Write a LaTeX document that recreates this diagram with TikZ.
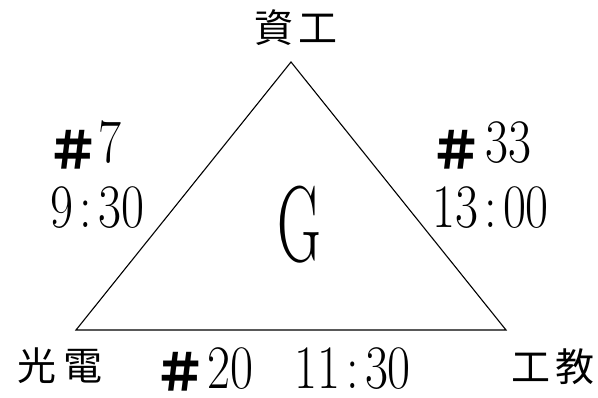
\documentclass[tikz,border=0pt]{standalone}
\usepackage{fontspec}
\newfontfamily\cjk{Noto Sans CJK TC}
\newcommand\tcolon{\makebox[0.5em]{:}}
\tikzset{
  cjklab/.style={inner sep=0pt, font=\cjk\fontsize{39}{39}\selectfont},
  numlab/.style={inner sep=0pt, anchor=base west, font=\fontsize{60}{60}\selectfont, xscale=0.833, yscale=1.03},
  hashlab/.style={inner sep=0pt, font=\cjk\bfseries\fontsize{52}{52}\selectfont},
  edge/.style={line width=1.1pt, line join=miter}
}
\begin{document}
\begin{tikzpicture}[x=1pt,y=-1pt]
\useasboundingbox (0,0) rectangle (598,398);
\coordinate (top) at (291,62);
\coordinate (bl) at (76,330);
\coordinate (br) at (506,330);
\draw[edge] (top) -- (bl) -- (br) -- cycle;
\node[cjklab] (zg) at (296,28) {資\hspace{5pt}工};
\node[cjklab] (gd) at (60,366) {光\hspace{7pt}電};
\node[cjklab] (gj) at (553,367) {工\hspace{5pt}教};
\node[hashlab] (h7) at (73,150) {＃};
\node[numlab] (n7) at (98,163) {7};
\node[numlab] (t7) at (50,228) {9\tcolon30};
\node[hashlab] (h33) at (456,150) {＃};
\node[numlab] (n33) at (485,163) {33};
\node[numlab] (t33) at (432,228) {13\tcolon00};
\node[hashlab] (h20) at (180,372) {＃};
\node[numlab] (n20) at (207,389) {20};
\node[numlab] (t20) at (294,389) {11\tcolon30};
\node[inner sep=0pt, font=\fontsize{108}{108}\selectfont, xscale=0.56] (g) at (299.5,225) {G};
\end{tikzpicture}
\end{document}
